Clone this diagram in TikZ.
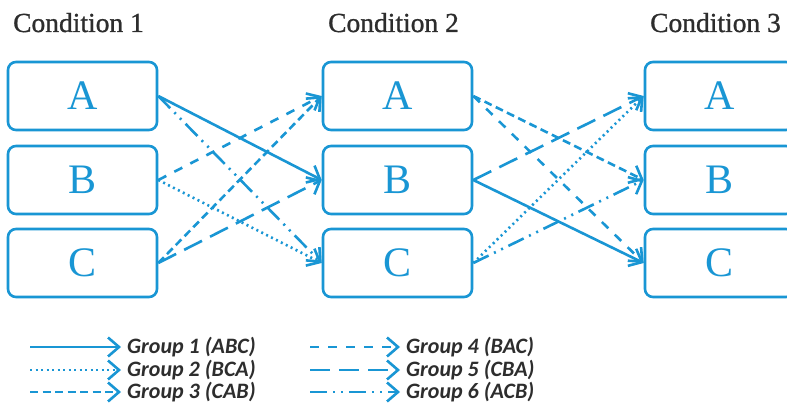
\documentclass[tikz,border=0pt]{standalone}
\usepackage{fontspec}
\setmainfont{Liberation Serif}
\newfontfamily\hdfont[FakeBold=1]{Liberation Serif}
\newfontfamily\legfont{Carlito}
\usetikzlibrary{arrows.meta}
\definecolor{cblue}{RGB}{25,150,212}
\definecolor{ctext}{RGB}{45,45,45}
\begin{document}
\begin{tikzpicture}[x=1pt,y=-1pt,
  box/.style={draw=cblue, line width=2.6pt, rounded corners=8pt, minimum width=149pt, minimum height=68pt, inner sep=0pt, text=cblue, font=\fontsize{42}{42}\selectfont},
  hd/.style={anchor=base west, inner sep=0pt, text=ctext, font=\hdfont\fontsize{27.5}{28}\selectfont},
  lg/.style={anchor=west, inner sep=0pt, text=ctext, font=\legfont\fontsize{22}{22}\selectfont\bfseries\itshape},
  con/.style={draw=cblue, line width=2.6pt, -{Straight Barb[length=11pt,width=19pt,line width=2.6pt]}},
  g1/.style={con},
  g2/.style={con, dash pattern=on 2pt off 3.5pt},
  g3/.style={con, dash pattern=on 8pt off 4.5pt},
  g4/.style={con, dash pattern=on 9pt off 9pt},
  g5/.style={con, dash pattern=on 20pt off 9pt},
  g6/.style={con, dash pattern=on 17pt off 6pt on 2pt off 6pt on 2pt off 6pt},
]
\useasboundingbox (0,0) rectangle (787,417);
\clip (0,0) rectangle (787,417);
\fill[white] (0,0) rectangle (787,417);
% headings
\node[hd] (h1) at (13,32) {Condition 1};
\node[hd] (h2) at (328,32) {Condition 2};
\node[hd] (h3) at (650,32) {Condition 3};
% boxes
\node[box] (a1) at (82.5,96) {A};
\node[box] (b1) at (82.5,180) {B};
\node[box] (c1) at (82.5,263) {C};
\node[box] (a2) at (397.5,96) {A};
\node[box] (b2) at (397.5,180) {B};
\node[box] (c2) at (397.5,263) {C};
\node[box] (a3) at (719.5,96) {A};
\node[box] (b3) at (719.5,180) {B};
\node[box] (c3) at (719.5,263) {C};
% connectors
\draw[g1] (a1.east) -- (b2.west);
\draw[g1] (b2.east) -- (c3.west);
\draw[g2] (b1.east) -- (c2.west);
\draw[g2] (c2.east) -- (a3.west);
\draw[g3] (c1.east) -- (a2.west);
\draw[g3] (a2.east) -- (b3.west);
\draw[g4] (b1.east) -- (a2.west);
\draw[g4] (a2.east) -- (c3.west);
\draw[g5] (c1.east) -- (b2.west);
\draw[g5] (b2.east) -- (a3.west);
\draw[g6] (a1.east) -- (c2.west);
\draw[g6] (c2.east) -- (b3.west);
% legend
\coordinate (l1s) at (30,347); \coordinate (l1e) at (121,347);
\coordinate (l2s) at (30,370); \coordinate (l2e) at (121,370);
\coordinate (l3s) at (30,392); \coordinate (l3e) at (121,392);
\coordinate (l4s) at (310,347); \coordinate (l4e) at (400,347);
\coordinate (l5s) at (310,370); \coordinate (l5e) at (400,370);
\coordinate (l6s) at (310,392); \coordinate (l6e) at (400,392);
\draw[g1] (l1s) -- (l1e);
\draw[g2] (l2s) -- (l2e);
\draw[g3] (l3s) -- (l3e);
\draw[g4] (l4s) -- (l4e);
\draw[g5] (l5s) -- (l5e);
\draw[g6] (l6s) -- (l6e);
\node[lg] (t1) at (127,347) {Group 1 (ABC)};
\node[lg] (t2) at (127,370) {Group 2 (BCA)};
\node[lg] (t3) at (127,392) {Group 3 (CAB)};
\node[lg] (t4) at (406,347) {Group 4 (BAC)};
\node[lg] (t5) at (406,370) {Group 5 (CBA)};
\node[lg] (t6) at (406,392) {Group 6 (ACB)};
\end{tikzpicture}
\end{document}
